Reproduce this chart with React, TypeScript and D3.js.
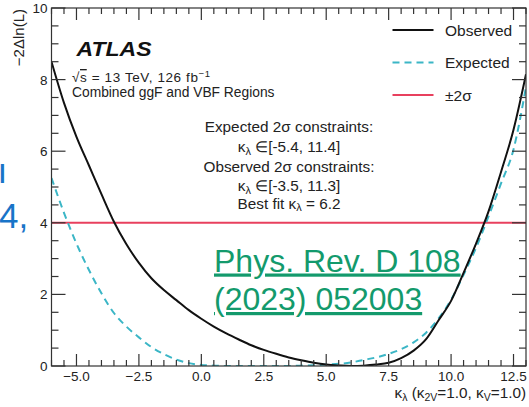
import React from "react";
import * as d3 from "d3";

// Likelihood scan of the Higgs self-coupling modifier
const kappa: number[] = [
  -6, -5.5, -5, -4.5, -4, -3.5, -3, -2.5, -2, -1.5, -1, -0.5, 0, 0.5, 1, 1.5, 2, 2.5, 3, 3.5,
  4, 4.5, 5, 5.5, 6, 6.5, 7, 7.5, 8, 8.5, 9, 9.5, 10, 10.5, 11, 11.5, 12, 12.5, 13,
];
const observed: number[] = [
  8.5, 7.35, 6.4, 5.6, 4.8, 4.03, 3.4, 2.88, 2.45, 2.12, 1.84, 1.56, 1.32, 1.1, 0.91, 0.74, 0.58, 0.45, 0.34, 0.24,
  0.16, 0.09, 0.04, 0.015, 0.0, 0.01, 0.04, 0.09, 0.22, 0.43, 0.75, 1.28, 1.82, 2.6, 3.42, 4.32, 5.42, 6.6, 8.15,
];
const expected: number[] = [
  5.25, 4.28, 3.42, 2.68, 2.03, 1.48, 1.1, 0.8, 0.53, 0.33, 0.18, 0.08, 0.03, 0.01, 0.0, 0.0, 0.0, 0.0, 0.0, 0.0,
  0.01, 0.02, 0.04, 0.06, 0.1, 0.17, 0.24, 0.34, 0.47, 0.66, 0.93, 1.33, 1.85, 2.55, 3.3, 4.18, 5.1, 6.05, 7.8,
];
const twoSigmaLevel = 4;

const xMajorTicks: number[] = [-5, -2.5, 0, 2.5, 5, 7.5, 10, 12.5];
const yMajorTicks: number[] = [0, 2, 4, 6, 8, 10];

const legendLabels: string[] = ["Observed", "Expected", "±2σ"];

const W = 529;
const H = 407;
const M = { left: 51.5, right: 526, top: 8, bottom: 366 };

const FONT = "'Liberation Sans', Arial, Helvetica, sans-serif";
const C_OBS = "#111111";
const C_EXP = "#3bb6c6";
const C_SIG = "#e8405e";
const C_AXIS = "#333333";

export default function App() {
  const x = d3.scaleLinear().domain([-6, 13]).range([M.left, M.right]);
  const y = d3.scaleLinear().domain([0, 10]).range([M.bottom, M.top]);

  const line = d3
    .line<number>()
    .x((_, i) => x(kappa[i]))
    .y((d) => y(d))
    .curve(d3.curveMonotoneX);

  const xMinor = d3.range(-6, 13.001, 0.5).filter((v) => !xMajorTicks.some((m) => Math.abs(m - v) < 1e-6));
  const yMinor = d3.range(0, 10.001, 0.5).filter((v) => !yMajorTicks.some((m) => Math.abs(m - v) < 1e-6));
  const fmtX = d3.format(".1f");

  const xMajLen = 12;
  const xMinLen = 6;
  const yMajLen = 14;
  const yMinLen = 7;

  const textX = 289;

  return (
    <svg
      width={W}
      height={H}
      style={{ position: "fixed", left: 0, top: 0, background: "#fff" }}
      fontFamily={FONT}
    >
      <defs>
        <clipPath id="plot-area">
          <rect x={M.left} y={M.top} width={M.right - M.left} height={M.bottom - M.top} />
        </clipPath>
      </defs>

      {/* slide text behind the figure */}
      <text x={-2.6} y={183} fontSize={35} fill="#1874c8">ı</text>
      <text x={-1} y={228} fontSize={35} fill="#1874c8">4,</text>

      {/* curves */}
      <g clipPath="url(#plot-area)">
        <line x1={x(-6)} x2={x(13)} y1={y(twoSigmaLevel)} y2={y(twoSigmaLevel)} stroke={C_SIG} strokeWidth={2} />
        <path d={line(expected) || ""} fill="none" stroke={C_EXP} strokeWidth={2} strokeDasharray="7,5" />
        <path d={line(observed) || ""} fill="none" stroke={C_OBS} strokeWidth={2} />
      </g>

      {/* frame */}
      <rect
        x={M.left}
        y={M.top}
        width={M.right - M.left}
        height={M.bottom - M.top}
        fill="none"
        stroke={C_AXIS}
        strokeWidth={1.2}
      />

      {/* ticks on all four sides */}
      <g stroke={C_AXIS} strokeWidth={1.2}>
        {xMajorTicks.map((v) => (
          <g key={"xM" + v}>
            <line x1={x(v)} x2={x(v)} y1={M.bottom} y2={M.bottom - xMajLen} />
            <line x1={x(v)} x2={x(v)} y1={M.top} y2={M.top + xMajLen} />
          </g>
        ))}
        {xMinor.map((v) => (
          <g key={"xm" + v}>
            <line x1={x(v)} x2={x(v)} y1={M.bottom} y2={M.bottom - xMinLen} />
            <line x1={x(v)} x2={x(v)} y1={M.top} y2={M.top + xMinLen} />
          </g>
        ))}
        {yMajorTicks.map((v) => (
          <g key={"yM" + v}>
            <line x1={M.left} x2={M.left + yMajLen} y1={y(v)} y2={y(v)} />
            <line x1={M.right} x2={M.right - yMajLen} y1={y(v)} y2={y(v)} />
          </g>
        ))}
        {yMinor.map((v) => (
          <g key={"ym" + v}>
            <line x1={M.left} x2={M.left + yMinLen} y1={y(v)} y2={y(v)} />
            <line x1={M.right} x2={M.right - yMinLen} y1={y(v)} y2={y(v)} />
          </g>
        ))}
      </g>

      {/* tick labels */}
      <g fontSize={13.5} fill="#222">
        {xMajorTicks.map((v) => (
          <text key={"xl" + v} x={x(v)} y={M.bottom + 14.5} textAnchor="middle">
            {fmtX(v)}
          </text>
        ))}
        {yMajorTicks.map((v) => (
          <text key={"yl" + v} x={M.left - 4} y={y(v) + 5} textAnchor="end">
            {v}
          </text>
        ))}
      </g>

      {/* axis titles */}
      <text
        transform={`translate(24, ${M.top + 1}) rotate(-90)`}
        textAnchor="end"
        fontSize={15}
        fill="#222"
      >
        −2Δln(L)
      </text>
      <text x={M.right} y={398} textAnchor="end" fontSize={15.3} fill="#222">
        κ<tspan fontSize={10.5} dy={3}>λ</tspan>
        <tspan dy={-3}> (κ</tspan>
        <tspan fontSize={10.5} dy={3}>2V</tspan>
        <tspan dy={-3}>=1.0, κ</tspan>
        <tspan fontSize={10.5} dy={3}>V</tspan>
        <tspan dy={-3}>=1.0)</tspan>
      </text>

      {/* experiment label */}
      <text x={76.5} y={55.5} fontSize={20.5} fontWeight="bold" fontStyle="italic" fill="#111" textLength={75} lengthAdjust="spacingAndGlyphs">
        ATLAS
      </text>
      <text x={72} y={82} fontSize={13.5} fill="#222" textLength={138} lengthAdjust="spacing">
        √<tspan textDecoration="overline">s</tspan> = 13 TeV, 126 fb
        <tspan fontSize={9.5} dy={-5}>−1</tspan>
      </text>
      <text x={72} y={97} fontSize={13.8} fill="#222">
        Combined ggF and VBF Regions
      </text>

      {/* constraint summary */}
      <g fontSize={15.3} fill="#222" textAnchor="middle">
        <text x={textX} y={132}>Expected 2σ constraints:</text>
        <text x={textX} y={152}>
          κ<tspan fontSize={11} dy={2.5}>λ</tspan>
          <tspan dy={-2.5}> ∈[-5.4, 11.4]</tspan>
        </text>
        <text x={textX} y={172}>Observed 2σ constraints:</text>
        <text x={textX} y={191}>
          κ<tspan fontSize={11} dy={2.5}>λ</tspan>
          <tspan dy={-2.5}> ∈[-3.5, 11.3]</tspan>
        </text>
        <text x={textX} y={208.5}>
          Best fit κ<tspan fontSize={11} dy={2.5}>λ</tspan>
          <tspan dy={-2.5}> = 6.2</tspan>
        </text>
      </g>

      {/* legend */}
      <g fontSize={15.5} fill="#222">
        {legendLabels.map((lab, i) => {
          const ly = 30 + i * 32.5;
          const stroke = i === 0 ? C_OBS : i === 1 ? C_EXP : C_SIG;
          return (
            <g key={lab}>
              <line
                x1={392.5}
                x2={433.5}
                y1={ly}
                y2={ly}
                stroke={stroke}
                strokeWidth={2}
                strokeDasharray={i === 1 ? "7,5" : undefined}
              />
              <text x={445} y={ly + 5.5}>{lab}</text>
            </g>
          );
        })}
      </g>

      {/* reference */}
      <g fontSize={32} fill="#139a6c" textDecoration="underline">
        <text x={214} y={271.5}>Phys. Rev. D 108</text>
        <text x={214} y={310}>(2023) 052003</text>
      </g>
    </svg>
  );
}
